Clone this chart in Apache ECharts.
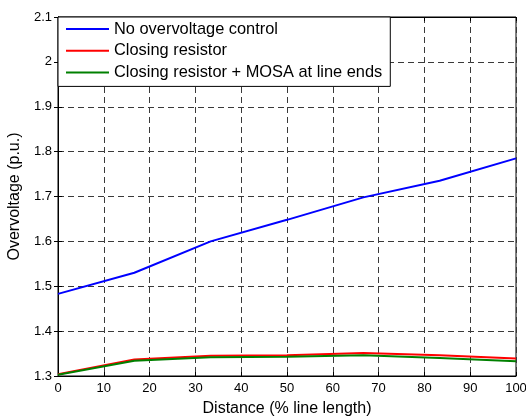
<!DOCTYPE html>
<html>
<head>
<meta charset="utf-8">
<script src="https://cdn.jsdelivr.net/npm/echarts@6/dist/echarts.min.js"></script>
<style>
html,body{margin:0;padding:0;background:#fff;}
#chart{width:526px;height:419px;}
</style>
</head>
<body>
<div id="chart"></div>
<script>
const distance = [0, 16.67, 33.33, 50, 66.67, 83.33, 100];
const noControl = [1.483, 1.530, 1.600, 1.648, 1.698, 1.735, 1.785];
const closingResistor = [1.304, 1.337, 1.345, 1.346, 1.351, 1.346, 1.339];
const resistorMosa = [1.303, 1.334, 1.342, 1.343, 1.346, 1.340, 1.333];
const seriesNames = ['No overvoltage control', 'Closing resistor', 'Closing resistor + MOSA at line ends'];
const xTitle = 'Distance (% line length)';
const yTitle = 'Overvoltage (p.u.)';

const pair = (xs, ys) => xs.map((x, i) => [x, ys[i]]);
const font = 'Liberation Sans, Arial, sans-serif';
const gridLine = { show: true, lineStyle: { color: '#3a3a3a', type: [6, 4], width: 1 } };

const chart = echarts.init(document.getElementById('chart'), null, { renderer: 'canvas' });
chart.setOption({
  animation: false,
  backgroundColor: '#fff',
  grid: { left: 58, top: 17, right: 10, bottom: 43, containLabel: false, outerBoundsMode: 'none',
    show: true, borderColor: '#000', borderWidth: 1, backgroundColor: 'transparent' },
  legend: {
    data: seriesNames,
    orient: 'vertical',
    left: 58, top: 17,
    backgroundColor: '#fff',
    borderColor: '#000', borderWidth: 1,
    padding: [3, 8, 5, 8],
    icon: 'rect',
    itemWidth: 43, itemHeight: 2, itemGap: 3.7,
    textStyle: { fontFamily: font, fontSize: 16.4, color: '#000', lineHeight: 18 },
    z: 10
  },
  xAxis: [{
    type: 'value', min: 0, max: 100, interval: 10,
    name: xTitle, nameLocation: 'middle', nameGap: 25,
    nameTextStyle: { fontFamily: font, fontSize: 16, color: '#000' },
    axisLine: { show: true, onZero: false, lineStyle: { color: '#000', width: 1 } },
    axisTick: { show: true, inside: true, length: 4, lineStyle: { color: '#000' } },
    axisLabel: { fontFamily: font, fontSize: 13, color: '#000', margin: 6 },
    splitLine: gridLine
  }, {
    type: 'value', min: 0, max: 100, interval: 10, position: 'top',
    axisLine: { show: true, lineStyle: { color: '#000' } },
    axisTick: { show: true, inside: true, length: 4, lineStyle: { color: '#000' } },
    axisLabel: { show: false }, splitLine: { show: false }
  }],
  yAxis: [{
    type: 'value', min: 1.3, max: 2.1, interval: 0.1,
    name: yTitle, nameLocation: 'middle', nameGap: 25,
    nameTextStyle: { fontFamily: font, fontSize: 16, color: '#000' },
    axisLine: { show: true, onZero: false, lineStyle: { color: '#000', width: 1 } },
    axisTick: { show: true, inside: true, length: 4, lineStyle: { color: '#000' } },
    axisLabel: { fontFamily: font, fontSize: 13, color: '#000', margin: 6,
      formatter: v => String(Math.round(v * 10) / 10) },
    splitLine: gridLine
  }, {
    type: 'value', min: 1.3, max: 2.1, interval: 0.1, position: 'right',
    axisLine: { show: true, lineStyle: { color: '#000' } },
    axisTick: { show: true, inside: true, length: 4, lineStyle: { color: '#000' } },
    axisLabel: { show: false }, splitLine: { show: false }
  }],
  series: [
    { name: seriesNames[0], type: 'line', data: pair(distance, noControl), symbol: 'none',
      lineStyle: { color: '#0000ff', width: 2 }, itemStyle: { color: '#0000ff' } },
    { name: seriesNames[1], type: 'line', data: pair(distance, closingResistor), symbol: 'none',
      lineStyle: { color: '#ff0000', width: 2 }, itemStyle: { color: '#ff0000' } },
    { name: seriesNames[2], type: 'line', data: pair(distance, resistorMosa), symbol: 'none',
      lineStyle: { color: '#008000', width: 2 }, itemStyle: { color: '#008000' } }
  ]
});
</script>
</body>
</html>
